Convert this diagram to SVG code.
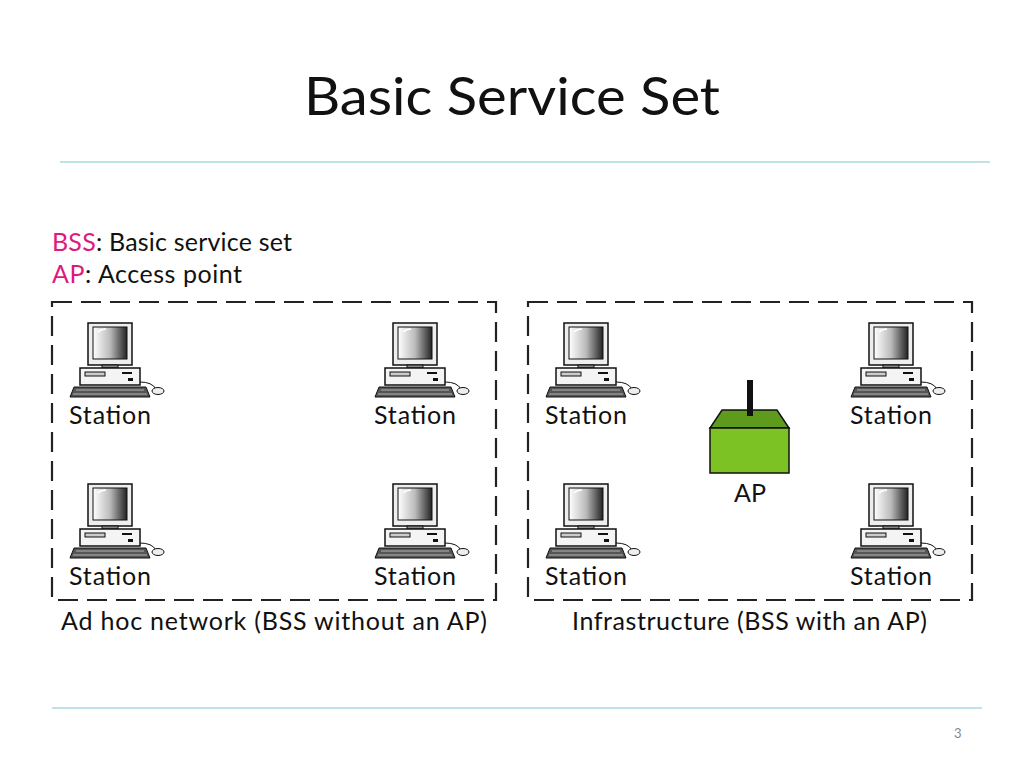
<svg xmlns="http://www.w3.org/2000/svg" width="1024" height="768" viewBox="0 0 1024 768">
<style>
text{font-family:Lato,"Open Sans",sans-serif;fill:#111}
.lbl{font-size:25px}
.box{fill:none;stroke:#222;stroke-width:2.2;stroke-dasharray:20,9}
.rule{stroke:#7fc3d6;stroke-width:1.2}
</style>
<defs>
<linearGradient id="scr" x1="0" x2="1"><stop offset="0" stop-color="#fff"/><stop offset="0.5" stop-color="#bbb"/><stop offset="1" stop-color="#222"/></linearGradient>
<g id="pc">
<rect x="18" y="3" width="44" height="42" fill="#eee" stroke="#111" stroke-width="1.5"/>
<rect x="23" y="7" width="34" height="32" fill="url(#scr)" stroke="#111"/>
<path d="M28,12 q3,-3 8,-3" stroke="#fff" fill="none" stroke-width="1.5"/>
<rect x="32" y="45" width="16" height="3" fill="#888" stroke="#111"/>
<rect x="10" y="48" width="60" height="17" fill="#f4f4f4" stroke="#111" stroke-width="1.5"/>
<rect x="15" y="52" width="20" height="4" fill="#ccc" stroke="#111"/>
<rect x="52" y="52" width="10" height="2" fill="#111"/>
<rect x="58" y="58" width="5" height="3" fill="#111"/>
<polygon points="4,67 76,67 80,77 0,77" fill="#555" stroke="#111"/>
<path d="M6,70 H74 M3,74 H77" stroke="#ccc" stroke-width="0.8"/>
<path d="M70,62 q12,0 16,7" stroke="#111" fill="none"/>
<ellipse cx="88" cy="71" rx="6" ry="3.5" fill="#eee" stroke="#111"/>
</g>
</defs>
<text x="304" y="115" font-size="52" textLength="416" lengthAdjust="spacingAndGlyphs">Basic Service Set</text>
<line class="rule" x1="60" y1="162" x2="990" y2="162"/>
<line class="rule" x1="52" y1="708" x2="982" y2="708"/>
<text x="954" y="738" font-size="13" style="fill:#888">3</text>
<text x="52" y="251" class="lbl" textLength="240"><tspan style="fill:#e0197d">BSS</tspan>: Basic service set</text>
<text x="52" y="283" class="lbl" textLength="190"><tspan style="fill:#e0197d">AP</tspan>: Access point</text>
<g id="adhoc">
<rect class="box" x="52" y="302" width="444" height="298"/>
<text x="61" y="630" class="lbl" textLength="426">Ad hoc network  (BSS without an AP)</text>
</g>
<g id="infra">
<rect class="box" x="528" y="302" width="444" height="298"/>
<text x="572" y="630" class="lbl" textLength="355">Infrastructure (BSS with an AP)</text>
</g>
<g id="s1"><use href="#pc" x="70" y="320"/><text x="69" y="424" class="lbl" textLength="82">Station</text></g>
<g id="s2"><use href="#pc" x="375" y="320"/><text x="374" y="424" class="lbl" textLength="82">Station</text></g>
<g id="s3"><use href="#pc" x="70" y="481"/><text x="69" y="585" class="lbl" textLength="82">Station</text></g>
<g id="s4"><use href="#pc" x="375" y="481"/><text x="374" y="585" class="lbl" textLength="82">Station</text></g>
<g id="s5"><use href="#pc" x="546" y="320"/><text x="545" y="424" class="lbl" textLength="82">Station</text></g>
<g id="s6"><use href="#pc" x="851" y="320"/><text x="850" y="424" class="lbl" textLength="82">Station</text></g>
<g id="s7"><use href="#pc" x="546" y="481"/><text x="545" y="585" class="lbl" textLength="82">Station</text></g>
<g id="s8"><use href="#pc" x="851" y="481"/><text x="850" y="585" class="lbl" textLength="82">Station</text></g>
<g id="ap">
<polygon points="722,410 777,410 789,428 710,428" fill="#5e9a1c" stroke="#111" stroke-width="1.5"/>
<rect x="710" y="428" width="79" height="45" fill="#7cc224" stroke="#111" stroke-width="1.5"/>
<rect x="747" y="380" width="6" height="36" fill="#111"/>
<text x="750" y="502" text-anchor="middle" class="lbl">AP</text>
</g>
<g id="connectors"/>
</svg>
